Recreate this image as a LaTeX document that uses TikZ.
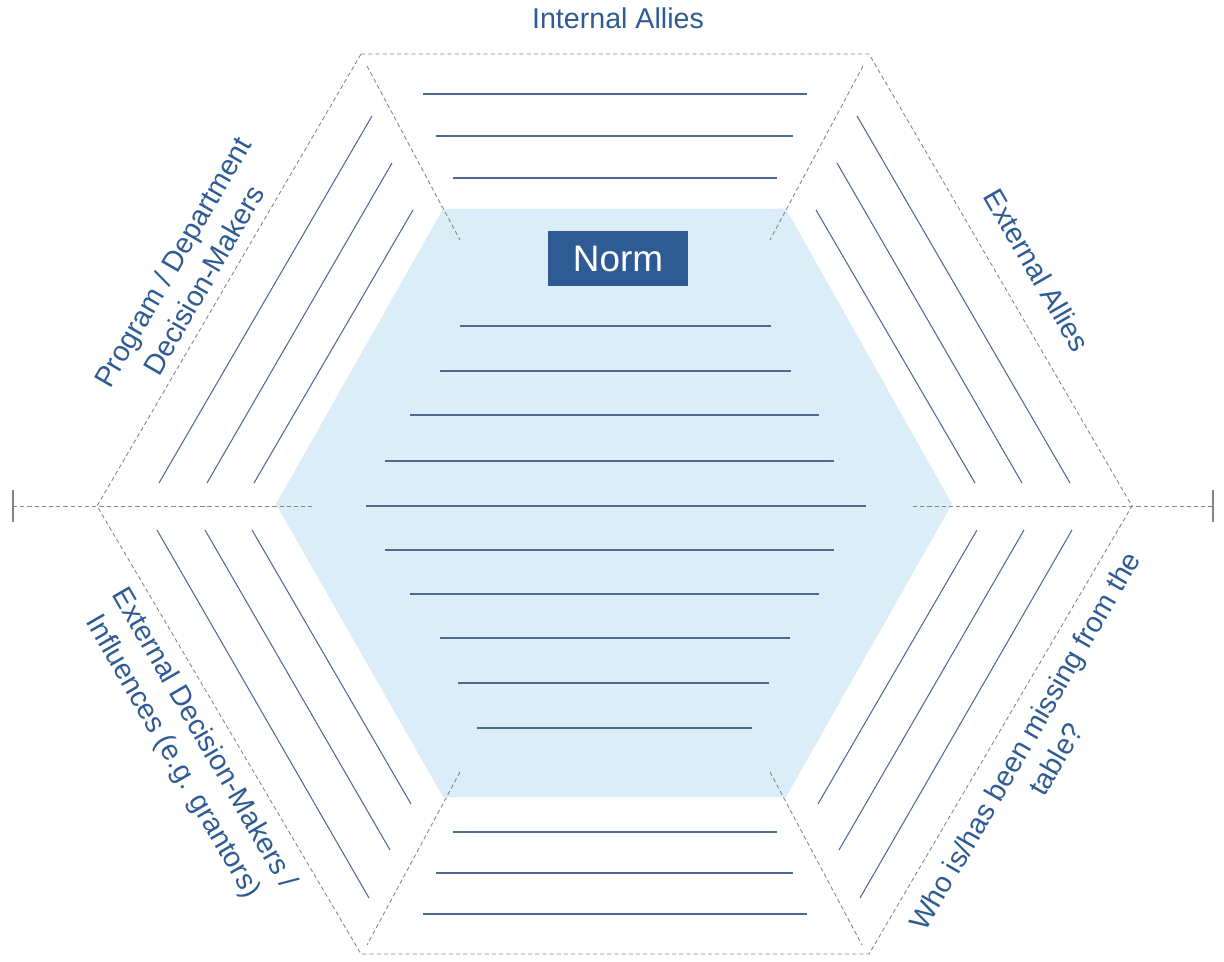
\documentclass[tikz,border=0pt]{standalone}
\usepackage{fontspec}
\setmainfont{Liberation Sans}
\usetikzlibrary{shapes}
\definecolor{normblue}{RGB}{47,91,149}
\definecolor{paleblue}{RGB}{219,237,247}
\definecolor{rulecol}{RGB}{78,106,146}
\definecolor{dashcol}{RGB}{128,134,144}

\begin{document}
\begin{tikzpicture}[x=0.02cm,y=-0.02cm]
    \tikzstyle{guide}=[draw=dashcol, line width=0.5pt, dash pattern=on 2.4pt off 1.7pt]
    \tikzstyle{rule}=[draw=rulecol, line width=0.6pt]
    \tikzstyle{label}=[text=normblue, font=\fontsize{16.3}{20.5}\selectfont, align=center, inner sep=0pt]
    \useasboundingbox (0,0) rectangle (1224,962);

    % centre hexagon
    \fill[paleblue] (443,209) -- (786,209) -- (952,504) -- (786,797) -- (443,797) -- (276,504) -- cycle;

    % outer hexagon and spines
    \coordinate (tl) at (361,54);   \coordinate (tr) at (869,54);
    \coordinate (rt) at (1132,506); \coordinate (br) at (869,954);
    \coordinate (bl) at (361,954);  \coordinate (lt) at (97,506);
    \draw[guide] (tl) -- (tr) -- (rt) -- (br) -- (bl) -- (lt) -- cycle;
    \draw[guide] (367,66) -- (460,240);
    \draw[guide] (863,66) -- (770,240);
    \draw[guide] (460,772) -- (367,945);
    \draw[guide] (770,772) -- (862,945);
    \coordinate (lend) at (13,506);  \coordinate (rend) at (1213,506);
    \draw[guide] (lend) -- (312,506);
    \draw[guide] (913,506) -- (rend);
    \draw[dashcol, line width=0.8pt] ([yshift=0.33cm]lend) -- ([yshift=-0.33cm]lend);
    \draw[dashcol, line width=0.8pt] ([yshift=0.33cm]rend) -- ([yshift=-0.33cm]rend);

    % writing lines
    \foreach \y/\a/\b in {326/460/771, 371/440/791, 415/410/819, 461/385/834, 506/366/866,
                          550/385/834, 594/410/819, 638/440/790, 683/458/769, 728/477/752}
        \draw[rule] (\a,\y) -- (\b,\y);
    \foreach \y/\a/\b in {94/423/807, 136/436/793, 178/453/777, 832/453/777, 873/436/793, 914/423/807}
        \draw[rule] (\a,\y) -- (\b,\y);
    \foreach \a/\b/\c/\d in {159/483/372/116, 207/483/392/163, 254/483/413/210}
        \draw[rule] (\a,\b) -- (\c,\d) (1229-\a,\b) -- (1229-\c,\d);
    \foreach \a/\b/\c/\d in {157/530/369/898, 205/530/390/850, 252/530/411/804}
        \draw[rule] (\a,\b) -- (\c,\d) (1229-\a,\b) -- (1229-\c,\d);

    % labels
    \node[fill=normblue, text=white, font=\fontsize{21}{24}\selectfont, minimum width=2.8cm, minimum height=1.1cm, inner sep=0pt] (norm) at (618,258.5) {Norm};
    \node[label] (internal) at (618,18) {Internal Allies};
    \node[label, rotate=-60] (external) at (1037,270) {External Allies};
    \node[label, rotate=60] (program) at (188,271) {Program / Department\\Decision-Makers};
    \node[label, rotate=-60] (influence) at (188,748) {External Decision-Makers /\\Influences (e.g. grantors)};
    \node[label, rotate=60] (missing) at (1040,750) {Who is/has been missing from the\\table?};
\end{tikzpicture}
\end{document}
